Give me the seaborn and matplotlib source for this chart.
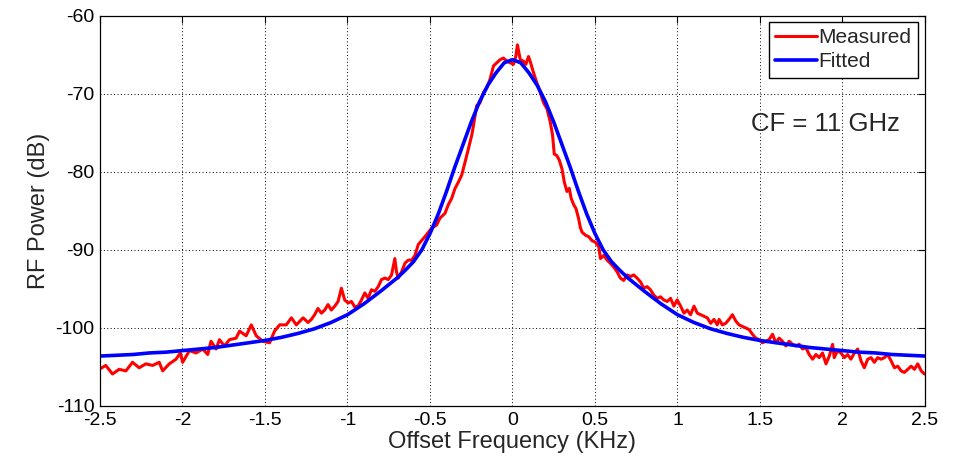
import numpy as np
import matplotlib
matplotlib.use("Agg")
import matplotlib.pyplot as plt
import seaborn as sns

# Measured RF spectrum (offset frequency in kHz, power in dB)
meas_x = [
    -2.505, -2.465, -2.424, -2.384, -2.343, -2.303, -2.262, -2.222, -2.181, -2.141,
    -2.120, -2.080, -2.039, -2.013, -1.999, -1.958, -1.918, -1.877, -1.847, -1.827,
    -1.796, -1.776, -1.746, -1.715, -1.675, -1.654, -1.614, -1.583, -1.553, -1.513,
    -1.472, -1.442, -1.411, -1.371, -1.340, -1.310, -1.269, -1.239,
    -1.219, -1.199, -1.179, -1.158, -1.138, -1.118, -1.098, -1.077, -1.057, -1.037,
    -1.017, -0.996, -0.976, -0.956, -0.936, -0.915, -0.895, -0.875, -0.855, -0.834,
    -0.814, -0.794, -0.773, -0.753, -0.733, -0.713, -0.703, -0.692, -0.672, -0.652,
    -0.632, -0.611, -0.591,
    -0.571, -0.531, -0.490, -0.460, -0.439, -0.409, -0.389, -0.369, -0.348, -0.328,
    -0.308, -0.287, -0.267, -0.247, -0.237, -0.227, -0.217, -0.196, -0.176, -0.156,
    -0.136, -0.115, -0.095, -0.075, -0.055, -0.034, -0.014, 0.006, 0.020, 0.030,
    0.047, 0.067, 0.081, 0.097, 0.107, 0.128, 0.148, 0.168, 0.188, 0.209,
    0.229, 0.243, 0.253, 0.269, 0.284, 0.300, 0.314, 0.330, 0.344, 0.356,
    0.371, 0.385,
    0.401, 0.411, 0.421, 0.442, 0.462, 0.482, 0.502, 0.523, 0.533, 0.553,
    0.573, 0.593, 0.614, 0.634, 0.654, 0.674, 0.695, 0.715, 0.735, 0.755,
    0.776, 0.796, 0.816, 0.836, 0.857, 0.877, 0.897, 0.917, 0.938, 0.958,
    0.978, 0.998, 1.019, 1.039, 1.059, 1.079, 1.100, 1.120, 1.140, 1.160,
    1.181, 1.201, 1.221, 1.241,
    1.252, 1.272, 1.292, 1.312, 1.333, 1.353, 1.373, 1.393, 1.414, 1.434,
    1.454, 1.474, 1.495, 1.515, 1.535, 1.555, 1.576, 1.596, 1.616, 1.636,
    1.657, 1.677, 1.697, 1.717, 1.738, 1.758, 1.778, 1.798, 1.819, 1.839,
    1.859, 1.879, 1.900, 1.920, 1.940, 1.950, 1.970, 1.991, 2.011, 2.031,
    2.051, 2.072, 2.092, 2.112, 2.132, 2.153, 2.173, 2.193, 2.213, 2.234,
    2.254, 2.274, 2.294, 2.315, 2.335, 2.355, 2.375, 2.396, 2.416, 2.436,
    2.456, 2.477, 2.497,
]
meas_db = [
    -105.3, -104.8, -105.9, -105.3, -105.5, -104.4, -105.1, -104.6, -104.8, -104.4,
    -105.5, -104.6, -104.0, -103.2, -104.4, -102.9, -103.2, -102.7, -103.4, -101.7,
    -102.7, -101.5, -102.3, -101.5, -101.3, -100.4, -101.0, -99.6, -101.0, -101.7,
    -101.9, -100.4, -99.6, -99.6, -98.7, -99.6, -98.7, -99.3,
    -98.9, -98.3, -97.5, -98.1, -97.7, -97.0, -97.7, -97.2, -96.6, -94.9,
    -96.4, -96.8, -96.6, -97.3, -97.2, -96.4, -95.5, -96.2, -95.1, -95.3,
    -94.7, -93.8, -93.6, -93.8, -93.2, -91.1, -92.8, -93.6, -92.8, -91.7,
    -91.3, -91.3, -90.7,
    -89.3, -88.3, -87.2, -86.8, -85.9, -85.3, -84.2, -83.4, -82.1, -81.3,
    -80.4, -78.7, -77.0, -75.3, -74.1, -72.8, -71.5, -71.1, -69.8, -69.2,
    -68.1, -66.4, -66.0, -65.6, -65.4, -65.8, -66.0, -66.2, -65.2, -63.7,
    -65.6, -65.8, -66.2, -65.2, -65.8, -67.3, -68.6, -69.8, -71.1, -71.9,
    -73.6, -75.3, -77.7, -77.9, -78.5, -79.6, -81.3, -82.5, -82.1, -83.4,
    -84.2, -84.7,
    -86.0, -87.1, -87.7, -88.1, -88.3, -88.8, -89.0, -89.6, -91.1, -90.7,
    -91.3, -91.7, -92.2, -92.8, -93.6, -93.9, -93.2, -93.4, -93.2, -93.6,
    -94.1, -94.9, -94.7, -95.1, -95.8, -96.2, -96.0, -96.4, -96.6, -96.2,
    -97.2, -96.4, -97.2, -98.1, -97.7, -98.3, -97.2, -98.1, -98.3, -98.5,
    -98.7, -99.4, -98.9, -99.6,
    -98.9, -99.6, -99.4, -98.9, -98.3, -99.1, -99.6, -99.8, -100.0, -100.2,
    -100.8, -101.3, -101.5, -101.9, -101.7, -101.5, -100.8, -101.9, -101.3, -101.7,
    -102.3, -101.7, -102.1, -102.3, -102.1, -102.7, -102.5, -103.4, -104.0, -103.4,
    -103.8, -103.2, -104.6, -103.6, -102.1, -103.8, -102.9, -103.2, -103.8, -103.4,
    -104.0, -103.2, -102.7, -104.2, -105.1, -104.0, -103.8, -104.4, -103.8, -104.0,
    -103.8, -103.4, -104.2, -105.1, -104.9, -105.5, -105.7, -105.3, -104.9, -105.3,
    -104.6, -105.5, -105.9,
]

# Fitted line shape
fit_x = [
    -2.5, -2.4, -2.3, -2.2, -2.1, -2.0, -1.9, -1.8, -1.7, -1.6,
    -1.5, -1.4, -1.3, -1.2, -1.1, -1.0, -0.9, -0.8, -0.7, -0.65,
    -0.6, -0.55, -0.5, -0.45, -0.4, -0.35, -0.3, -0.25, -0.2, -0.15,
    -0.1, -0.05, 0.0, 0.05, 0.1, 0.15, 0.2, 0.25, 0.3, 0.35,
    0.4, 0.45, 0.5, 0.55, 0.6, 0.65, 0.7, 0.8, 0.9, 1.0,
    1.1, 1.2, 1.3, 1.4, 1.5, 1.6, 1.7, 1.8, 1.9, 2.0,
    2.1, 2.2, 2.3, 2.4, 2.5,
]
fit_db = [
    -103.6, -103.5, -103.4, -103.2, -103.1, -102.9, -102.7, -102.5, -102.2, -101.9,
    -101.6, -101.2, -100.7, -100.1, -99.3, -98.3, -96.9, -95.3, -93.6, -92.6,
    -91.5, -90.0, -87.9, -85.4, -82.5, -79.4, -76.5, -73.6, -71.0, -68.9,
    -67.3, -66.0, -65.6, -66.0, -67.3, -68.9, -71.0, -73.6, -76.5, -79.4,
    -82.5, -85.4, -87.9, -90.0, -91.5, -92.6, -93.6, -95.3, -96.9, -98.3,
    -99.3, -100.1, -100.7, -101.2, -101.6, -101.9, -102.2, -102.5, -102.7, -102.9,
    -103.1, -103.2, -103.4, -103.5, -103.6,
]

x_ticks = [-2.5, -2, -1.5, -1, -0.5, 0, 0.5, 1, 1.5, 2, 2.5]
x_tick_labels = ["-2.5", "-2", "-1.5", "-1", "-0.5", "0", "0.5", "1", "1.5", "2", "2.5"]
y_ticks = [-110, -100, -90, -80, -70, -60]

sns.set_theme(style="white")
plt.rcParams['font.family'] = ['Liberation Sans', 'DejaVu Sans']
plt.rcParams['axes.unicode_minus'] = False

fig = plt.figure(figsize=(9.54, 4.59), dpi=100)
ax = fig.add_axes([0.1048, 0.1155, 0.8648, 0.8497])

sns.lineplot(x=meas_x, y=meas_db, ax=ax, color='#ff0000', linewidth=2.2,
             label='Measured', estimator=None, sort=False)
sns.lineplot(x=fit_x, y=fit_db, ax=ax, color='#0000ff', linewidth=2.6,
             label='Fitted', estimator=None, sort=False)

ax.set_xlim(-2.5, 2.5)
ax.set_ylim(-110, -60)
ax.set_xticks(x_ticks)
ax.set_xticklabels(x_tick_labels)
ax.set_yticks(y_ticks)

ax.grid(True, color='black', linestyle=(0, (1, 2.5)), linewidth=0.7)
for side in ['left', 'right', 'top', 'bottom']:
    ax.spines[side].set_visible(True)
    ax.spines[side].set_color('black')
    ax.spines[side].set_linewidth(0.9)
ax.tick_params(direction='in', length=5, width=0.8, top=True, right=True,
               labelsize=14, pad=4, colors='black')

ax.set_xlabel('Offset Frequency (KHz)', fontsize=17, labelpad=2)
ax.set_ylabel('RF Power (dB)', fontsize=17, labelpad=4)

ax.text(1.446, -73.9, 'CF = 11 GHz', fontsize=18.5, ha='left', va='center')

leg = ax.legend(loc='upper right', bbox_to_anchor=(0.9915, 0.985), borderaxespad=0,
                frameon=True, fancybox=False, edgecolor='black', framealpha=1,
                fontsize=15, handlelength=2.0, handletextpad=0.1, borderpad=0.3,
                labelspacing=0.25)
leg.get_frame().set_linewidth(1.0)

fig.savefig('out.png', dpi=100)
